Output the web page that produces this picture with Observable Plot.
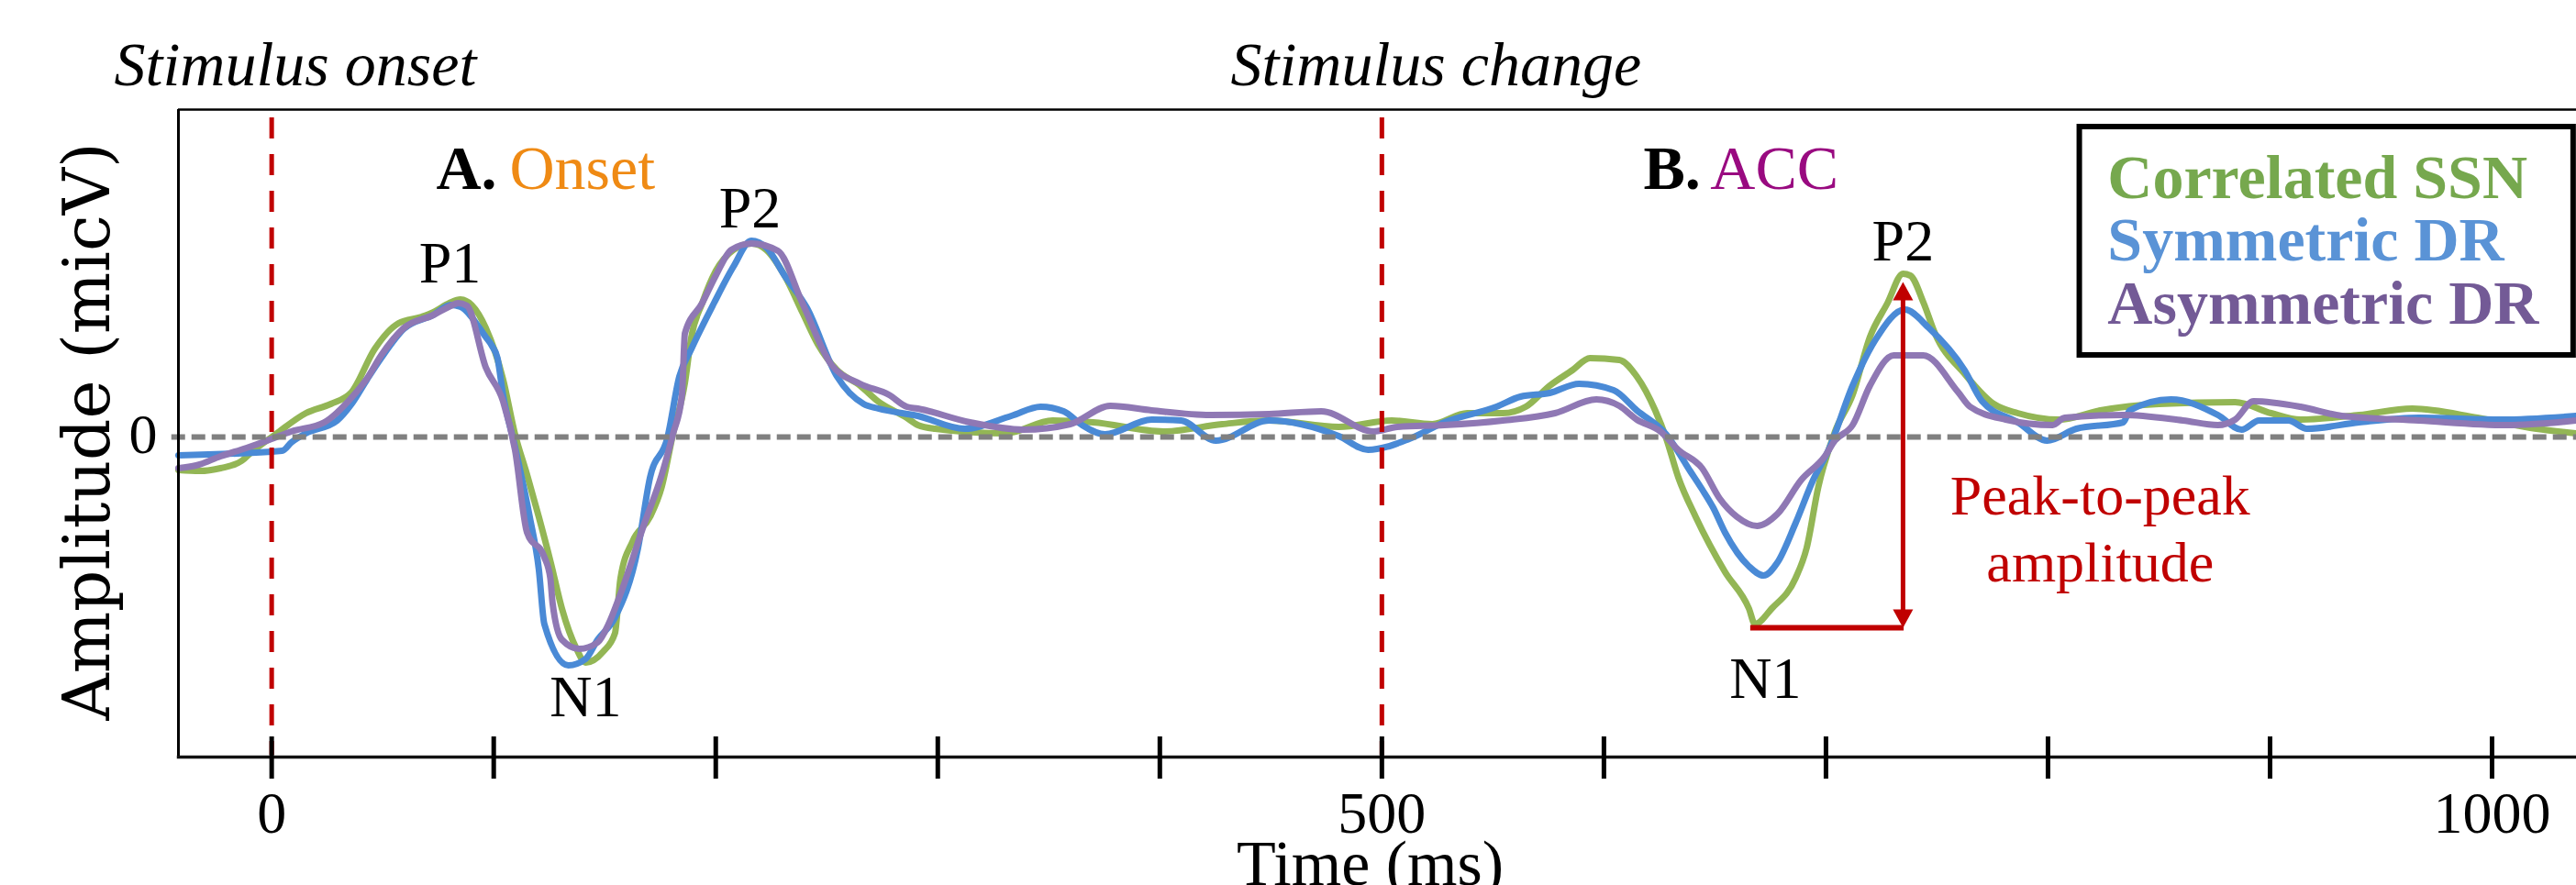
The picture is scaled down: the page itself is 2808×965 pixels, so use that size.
<!DOCTYPE html>
<html><head><meta charset="utf-8">
<script src="https://cdn.jsdelivr.net/npm/d3@7"></script>
<script src="https://cdn.jsdelivr.net/npm/@observablehq/plot@0.6"></script>
<style>html,body{margin:0;padding:0;background:#fff;overflow:hidden;}</style>
</head><body><div id="chart"></div>
<script>
// ---- data ----
const seriesNames = ["Correlated SSN", "Symmetric DR", "Asymmetric DR"];
const lineColors = ["#93B655", "#4A8AD6", "#8F78B4"];
const labelColors = ["#76A84E", "#5A93D6", "#735A96"];

const corrT = [-42,-32.5,-23,-13.5,-9.4,1.8,15.4,26.6,36,46.4,57.1,67.5,72.8,80,85,90,96.4,104.2,109.6,115,120.3,125.7,130.7,137.3,141.4,149.3,154.6,157.1,162.5,170.4,175.7,180.7,186.1,189,193.9,200,208,216.2,222.8,231,239,246,254.6,265,273,286,291,298.8,330.6,351.7,369.9,401.7,428.1,449.2,480.6,504.5,522.7,538.4,554.5,564.8,575.6,585.9,593.7,606.9,614.8,623.1,628,633.5,641.3,654.5,665.3,668,675.6,686.3,691.3,696.6,704.1,712,719.8,727.7,734.7,738,744,749.1,762.4,775.6,786.4,805,823.6,850,884.3,900.5,913.7,940.1,964.1,993.4,1019.9,1038];
const corrV = [-0.36,-0.37,-0.34,-0.26,-0.17,0.03,0.26,0.36,0.49,0.96,1.24,1.31,1.36,1.46,1.50,1.44,1.19,0.63,0.03,-0.41,-0.87,-1.37,-1.87,-2.31,-2.46,-2.34,-2.14,-1.54,-1.14,-0.87,-0.54,0.03,0.59,1.09,1.46,1.81,2.04,2.11,2.04,1.76,1.36,1.01,0.73,0.56,0.39,0.21,0.13,0.09,0.04,0.18,0.16,0.06,0.14,0.18,0.11,0.18,0.14,0.26,0.26,0.33,0.56,0.73,0.86,0.84,0.66,0.29,-0.01,-0.44,-0.87,-1.47,-1.87,-2.04,-1.87,-1.54,-1.21,-0.54,0.06,0.46,1.09,1.46,1.78,1.76,1.46,1.13,0.69,0.36,0.26,0.19,0.29,0.36,0.38,0.26,0.19,0.24,0.31,0.21,0.09,0.04];

const symT = [-42,4.7,8.8,15.4,29.5,36,43,49.3,59.6,72.8,80.7,85,96.4,99.3,101.7,104.2,109.6,116.2,120.3,122.8,133.6,141.4,146.8,154.6,165,170.4,178.2,183.6,189,199.2,208,216,223,231,241,254.6,266.6,273.2,291,312,333.1,346.3,356.7,365,375.3,396.3,409.5,425.2,449.2,480.6,493.8,512.4,528.1,551.6,562.4,575.6,588.8,604.4,614.8,628,638.8,644.2,649.2,654.5,665.3,671.9,678.1,686.3,694.2,701.2,712,722.3,735.5,746.3,762.4,770.3,786.4,799.6,812.8,833.9,836.8,855.4,876.5,887.2,895.1,908.3,916.6,940.1,967,1004.2,1038];
const symV = [-0.20,-0.15,-0.06,0.04,0.18,0.36,0.63,0.86,1.18,1.33,1.44,1.42,1.09,0.99,0.86,0.46,-0.11,-0.87,-1.44,-2.04,-2.49,-2.42,-2.21,-1.97,-1.21,-0.44,-0.01,0.66,0.96,1.46,1.86,2.14,2.06,1.76,1.41,0.66,0.36,0.31,0.23,0.09,0.23,0.33,0.28,0.13,0.03,0.19,0.18,-0.04,0.18,0.01,-0.14,-0.02,0.16,0.33,0.44,0.48,0.58,0.51,0.29,0.03,-0.37,-0.57,-0.77,-1.04,-1.41,-1.51,-1.37,-0.94,-0.47,-0.14,0.56,1.06,1.39,1.19,0.73,0.39,0.16,-0.04,0.09,0.16,0.29,0.41,0.24,0.08,0.18,0.18,0.09,0.16,0.21,0.19,0.23];

const asymT = [-42,-34,-23,-11.4,-1,8.8,23.7,36,43,49.3,59.6,72.8,80.7,84,88,96.4,104.2,109.6,115,122.8,125.5,126.5,130.7,138.5,146.8,151.7,157.1,167.9,175.7,180.7,184.8,186.1,193.9,200,207,216,228,239,252,265,278,286,291,314.5,338.5,359.6,377.7,396.3,422.7,449.2,472.7,496.3,507,528.1,554.5,578,596.6,606.9,614.8,625.5,633.5,644.2,652.1,659.9,669,678.1,688.8,699.5,704,712,719.8,730.5,743.8,759.5,764.9,781,802.1,807.5,833.9,860.8,876.5,884.3,892.6,913.7,932.3,967,1006.6,1038];
const asymV = [-0.34,-0.31,-0.21,-0.12,-0.03,0.06,0.16,0.43,0.64,0.89,1.19,1.33,1.43,1.46,1.43,0.76,0.39,-0.14,-1.04,-1.31,-1.54,-1.81,-2.21,-2.31,-2.24,-2.04,-1.71,-0.94,-0.41,0.03,0.46,1.13,1.46,1.76,2.04,2.11,2.03,1.46,0.79,0.58,0.46,0.33,0.31,0.16,0.08,0.14,0.34,0.29,0.24,0.25,0.28,0.06,0.11,0.13,0.18,0.26,0.41,0.34,0.19,0.06,-0.14,-0.34,-0.67,-0.87,-0.97,-0.84,-0.47,-0.21,-0.04,0.13,0.56,0.89,0.89,0.49,0.33,0.19,0.13,0.21,0.24,0.18,0.13,0.19,0.39,0.33,0.23,0.18,0.13,0.18];

const xTicks = [0,100,200,300,400,500,600,700,800,900,1000];
const xTickLabels = [0, 500, 1000];
const yTickLabels = [0];
const eventT = [0, 500];
const eventLabels = ["Stimulus onset", "Stimulus change"];
const eventLabelT = [-70.9, 431.9];
const peakLabels = ["P1", "P2", "N1", "P2", "N1"];
const peakT = [80.3, 215.4, 141.4, 734.7, 672.7];
const peakV = [1.69, 2.29, -3.04, 1.93, -2.84];
// peak-to-peak measure (ACC, Correlated SSN): N1 trough and P2 peak
const p2pT = [666.1, 734.7];
const p2pV = [-2.08, 1.69];

// ---- build ----
const series = [[corrT, corrV], [symT, symV], [asymT, asymV]].map(([T, V], i) =>
  T.map((t, j) => ({series: seriesNames[i], t, v: V[j]})));

const serif = "'Liberation Serif', 'Times New Roman', serif";
const red = "#C00000";
const txt = {fontFamily: serif, lineAnchor: "bottom"};

const arrowUp = {draw(ctx) { ctx.moveTo(0, 0); ctx.lineTo(-11, 20); ctx.lineTo(11, 20); ctx.closePath(); }};
const arrowDown = {draw(ctx) { ctx.moveTo(0, 0); ctx.lineTo(-11, -20); ctx.lineTo(11, -20); ctx.closePath(); }};

const chart = Plot.plot({
  width: 2808, height: 965,
  marginLeft: 194, marginRight: 0, marginTop: 119, marginBottom: 140,
  x: {domain: [-42, 1038], axis: null},
  y: {domain: [-3.49, 3.57], axis: null},
  style: {background: "white", overflow: "visible"},
  marks: [
    ...series.map((d, i) => Plot.line(d, {x: "t", y: "v", stroke: lineColors[i], strokeWidth: 7, curve: "monotone-x", strokeLinejoin: "round"})),
    Plot.ruleY([0], {x1: -45, x2: 1038, stroke: "#808080", strokeWidth: 6, strokeDasharray: "15,7"}),
    Plot.ruleX(eventT, {y1: 3.48, y2: -3.47, stroke: red, strokeWidth: 5, strokeDasharray: "23,17"}),
    // frame
    Plot.ruleY([3.57], {x1: -42, x2: 1038, stroke: "black", strokeWidth: 2.5}),
    Plot.ruleX([-42], {y1: 3.57, y2: -3.49, stroke: "black", strokeWidth: 3}),
    Plot.ruleY([-3.49], {x1: -42.5, x2: 1038, stroke: "#111", strokeWidth: 3.5}),
    Plot.ruleX(xTicks, {y1: -3.27, y2: -3.73, stroke: "black", strokeWidth: 5}),
    Plot.text(xTickLabels, {...txt, x: d => d, y: -4.31, text: d => `${d}`, fontSize: 64}),
    Plot.text(yTickLabels, {...txt, x: -51.5, y: -0.17, text: d => `${d}`, textAnchor: "end", fontSize: 62}),
    Plot.text(["Time (ms)"], {...txt, x: 494.7, y: -4.88, text: d => d, fontSize: 70}),
    Plot.text(["Amplitude (micV)"], {fontFamily: "'DejaVu Serif', serif", lineAnchor: "bottom", x: -73.4, y: 0.06, text: d => d, rotate: -90, fontSize: 71}),
    // event labels
    Plot.text(eventLabels, {...txt, x: (d, i) => eventLabelT[i], y: 3.84, text: d => d, textAnchor: "start", fontStyle: "italic", fontSize: 68}),
    // panel titles
    Plot.text(["A."], {...txt, x: 74.1, y: 2.71, text: d => d, textAnchor: "start", fontWeight: "bold", fontSize: 68}),
    Plot.text(["Onset"], {...txt, x: 107.1, y: 2.71, text: d => d, textAnchor: "start", fill: "#EF8A14", fontSize: 68}),
    Plot.text(["B."], {...txt, x: 617.8, y: 2.71, text: d => d, textAnchor: "start", fontWeight: "bold", fontSize: 68}),
    Plot.text(["ACC"], {...txt, x: 647.9, y: 2.71, text: d => d, textAnchor: "start", fill: "#990A80", fontSize: 68}),
    // peak labels
    Plot.text(peakLabels, {...txt, x: (d, i) => peakT[i], y: (d, i) => peakV[i], text: d => d, fontSize: 64}),
    // peak-to-peak annotation
    Plot.ruleY([p2pV[0]], {x1: p2pT[0], x2: p2pT[1] + 0.5, stroke: red, strokeWidth: 6}),
    Plot.ruleX([p2pT[1]], {y1: p2pV[1] - 0.15, y2: p2pV[0] + 0.15, stroke: red, strokeWidth: 5}),
    Plot.dot([0], {x: p2pT[1], y: p2pV[1], symbol: arrowUp, fill: red, stroke: "none"}),
    Plot.dot([0], {x: p2pT[1], y: p2pV[0], symbol: arrowDown, fill: red, stroke: "none"}),
    Plot.text(["Peak-to-peak", "amplitude"], {...txt, x: 823.5, y: (d, i) => [-0.84, -1.57][i], text: d => d, fill: red, fontSize: 62}),
    // legend
    Plot.rect([0], {x1: 814.3, x2: 1036.7, y1: 3.38, y2: 0.89, fill: "white", stroke: "black", strokeWidth: 6}),
    ...seriesNames.map((name, i) => Plot.text([name], {...txt, x: 826.8, y: [2.61, 1.93, 1.24][i], text: d => d, textAnchor: "start", fill: labelColors[i], fontWeight: "bold", fontSize: 68}))
  ]
});
document.getElementById("chart").appendChild(chart);
</script>
</body></html>
